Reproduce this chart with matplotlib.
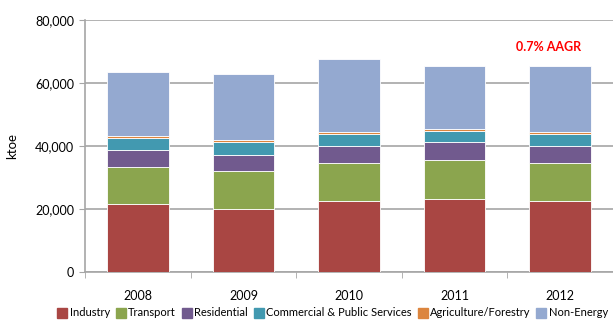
import matplotlib
matplotlib.use('Agg')
import matplotlib.pyplot as plt
from matplotlib.lines import Line2D
from matplotlib.ticker import FuncFormatter

years = ['2008', '2009', '2010', '2011', '2012']
sectors = ['Industry', 'Transport', 'Residential', 'Commercial & Public Services',
           'Agriculture/Forestry', 'Non-Energy']

industry = [21400, 19900, 22450, 23000, 22450]
transport = [11800, 12000, 12000, 12500, 12000]
residential = [5600, 5200, 5600, 5600, 5600]
commercial = [3600, 4050, 3700, 3500, 3700]
agriculture = [750, 700, 650, 750, 650]
non_energy = [20250, 20900, 23200, 19950, 20900]

series = [industry, transport, residential, commercial, agriculture, non_energy]
colors = ['#A94643', '#8BA54E', '#715A8E', '#4299B0', '#DC853E', '#94A9D0']

plt.rcParams['font.family'] = ['Lato', 'DejaVu Sans']

fig = plt.figure(figsize=(6.13, 3.21), dpi=100)
ax = fig.add_axes([0.1387, 0.1536, 0.8613, 0.7841])

x = range(len(years))
bottom = [0] * len(years)
for vals, col in zip(series, colors):
    ax.bar(x, vals, 0.585, bottom=bottom, color=col, edgecolor='white',
           linewidth=0.6, zorder=3)
    bottom = [b + v for b, v in zip(bottom, vals)]

ax.set_xlim(-0.5, 4.5)
ax.set_ylim(0, 80000)
ax.set_yticks(range(0, 80001, 20000))
ax.yaxis.set_major_formatter(FuncFormatter(lambda v, p: '{:,.0f}'.format(v)))
ax.set_xticks(x)
ax.set_xticklabels(years)
ax.set_xticks([i - 0.5 for i in range(6)], minor=True)

ax.grid(axis='y', color='#A6A6A6', linewidth=1.2, zorder=0)
for s in ['top', 'right']:
    ax.spines[s].set_visible(False)
for s in ['left', 'bottom']:
    ax.spines[s].set_color('#A6A6A6')
    ax.spines[s].set_linewidth(1.2)

ax.tick_params(axis='y', length=4, color='#A6A6A6', labelsize=9, pad=4)
ax.tick_params(axis='x', which='major', length=0, labelsize=9, pad=13)
ax.tick_params(axis='x', which='minor', length=4, color='#A6A6A6')
ax.set_ylabel('ktoe', fontsize=9.5, labelpad=12)

ax.text(3.89, 71400, '0.7% AAGR', color='#FF0000', fontsize=9,
        fontweight='bold', ha='center', va='center')

handles = [Line2D([], [], marker='s', linestyle='none', markersize=6.5,
                  markerfacecolor=c, markeredgecolor=c) for c in colors]
fig.legend(handles, sectors, loc='center left', bbox_to_anchor=(0.092, 0.025),
           ncol=6, frameon=False, fontsize=8, handletextpad=0.2,
           columnspacing=0.45, handlelength=1.0, borderpad=0, borderaxespad=0)

fig.savefig('out.png', dpi=100)
